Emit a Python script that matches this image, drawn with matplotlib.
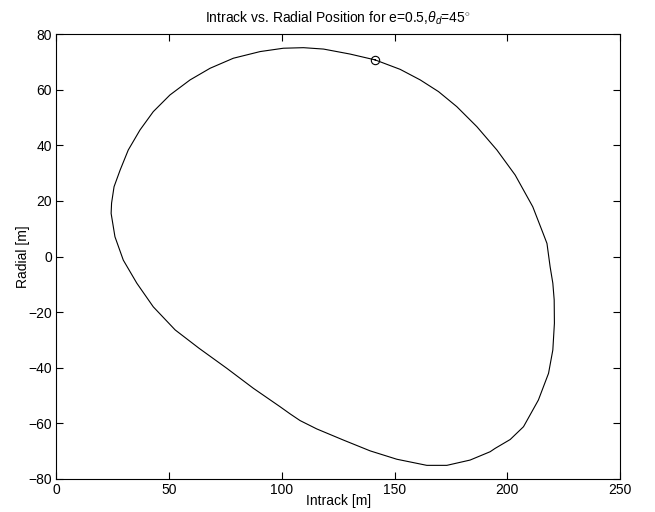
import numpy as np
import matplotlib
matplotlib.use("Agg")
import matplotlib.pyplot as plt

plt.rcParams['font.family'] = ['Liberation Sans', 'DejaVu Sans']
plt.rcParams['mathtext.fontset'] = 'custom'
plt.rcParams['mathtext.rm'] = 'Liberation Sans'
plt.rcParams['mathtext.it'] = 'Liberation Sans:italic'

# relative orbit (intrack, radial) in metres
intrack = [141.4, 130.3, 118.5, 109.6, 100.7, 90.4, 78.5, 68.2, 59.3, 50.4,
           43.0, 37.1, 31.9, 28.3, 25.6, 24.5, 24.3, 26.0, 29.7, 35.7,
           43.0, 52.7, 63.3, 75.6, 87.4, 99.2, 103.7, 108.1, 115.5, 127.3,
           139.2, 151.0, 164.3, 173.2, 183.5, 192.4, 194.6, 201.3, 207.2, 213.8,
           218.3, 220.2, 220.9, 220.8, 220.2, 219.0, 217.6, 215.9, 211.3,
           203.5, 195.4, 186.5, 177.6, 169.5, 161.4, 152.5, 141.4]
radial = [70.7, 72.8, 74.6, 75.1, 74.9, 73.7, 71.3, 67.7, 63.5, 58.1,
          52.1, 45.5, 38.3, 31.1, 25.1, 19.2, 15.5, 7.1, -1.3, -9.6,
          -18.1, -26.4, -33.0, -40.2, -47.4, -54.0, -56.6, -59.0, -62.0, -66.0,
          -69.9, -72.9, -75.1, -75.1, -73.2, -70.2, -69.0, -65.8, -61.2, -51.6,
          -42.0, -33.6, -24.0, -15.6, -9.6, -3.7, 4.7, 8.3, 17.9,
          29.3, 38.3, 46.7, 53.9, 59.3, 63.5, 67.3, 70.7]

# start position marker
start_x = [141.4]
start_y = [70.7]

fig = plt.figure(figsize=(6.55, 5.12), dpi=100)
ax = fig.add_axes([0.086, 0.0645, 0.8606, 0.869])

ax.plot(intrack, radial, color='black', linewidth=0.8, solid_joinstyle='round')
ax.plot(start_x, start_y, 'o', markersize=6, markerfacecolor='none',
        markeredgecolor='black', markeredgewidth=0.8)

ax.set_xlim(0, 250)
ax.set_ylim(-80, 80)
ax.set_xticks([0, 50, 100, 150, 200, 250])
ax.set_yticks([-80, -60, -40, -20, 0, 20, 40, 60, 80])
ax.tick_params(direction='in', top=True, right=True, length=5, width=0.8,
               labelsize=10, pad=3)
for s in ax.spines.values():
    s.set_linewidth(0.8)

ax.set_xlabel('Intrack [m]', fontsize=10, labelpad=-2)
ax.set_ylabel('Radial [m]', fontsize=10, labelpad=-1)
ax.set_title(r'Intrack vs. Radial Position for e=0.5,$\theta_d$=45$^{\circ}$',
             fontsize=10, pad=8)

fig.savefig('out.png', dpi=100)
